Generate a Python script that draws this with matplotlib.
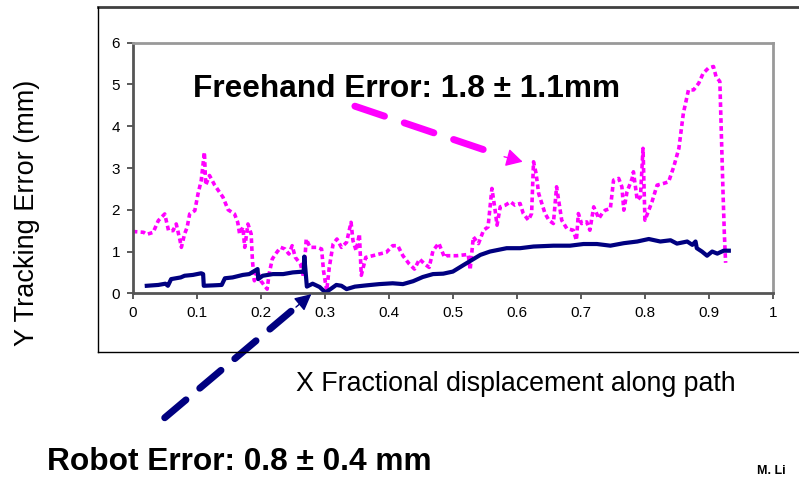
import matplotlib
matplotlib.use("Agg")
import matplotlib.pyplot as plt
from matplotlib.lines import Line2D

plt.rcParams["font.family"] = ["Liberation Sans", "DejaVu Sans"]

# freehand tracking error (dotted magenta)
free_x = [0.000, 0.017, 0.022, 0.032, 0.040, 0.050, 0.056, 0.063, 0.068, 0.074,
          0.076, 0.081, 0.085, 0.089, 0.097, 0.102, 0.107, 0.112, 0.114, 0.120,
          0.128, 0.141, 0.149, 0.159, 0.164, 0.167, 0.172, 0.175, 0.180, 0.185,
          0.187, 0.190, 0.195, 0.200, 0.210, 0.213, 0.218, 0.223, 0.231, 0.238,
          0.244, 0.249, 0.254, 0.262, 0.267, 0.271, 0.277, 0.288, 0.295, 0.298,
          0.303, 0.307, 0.313, 0.319, 0.326, 0.334, 0.341, 0.344, 0.349, 0.354,
          0.357, 0.364, 0.375, 0.385, 0.396, 0.406, 0.414, 0.422, 0.432, 0.440,
          0.448, 0.456, 0.463, 0.469, 0.478, 0.487, 0.490, 0.506, 0.524, 0.527,
          0.532, 0.540, 0.548, 0.555, 0.561, 0.566, 0.569, 0.574, 0.582, 0.590,
          0.597, 0.605, 0.610, 0.618, 0.623, 0.626, 0.630, 0.634, 0.639, 0.644,
          0.650, 0.657, 0.662, 0.666, 0.670, 0.678, 0.688, 0.693, 0.696, 0.701,
          0.709, 0.714, 0.720, 0.728, 0.733, 0.738, 0.746, 0.751, 0.759, 0.764,
          0.767, 0.772, 0.780, 0.782, 0.788, 0.793, 0.797, 0.800, 0.806, 0.811,
          0.819, 0.829, 0.837, 0.845, 0.853, 0.860, 0.868, 0.876, 0.884, 0.891,
          0.899, 0.907, 0.911, 0.917, 0.919, 0.922, 0.924, 0.926]
free_y = [1.48, 1.46, 1.41, 1.46, 1.74, 1.90, 1.50, 1.50, 1.66, 1.26,
          1.10, 1.42, 1.58, 1.90, 1.98, 2.38, 2.70, 3.38, 2.59, 2.82,
          2.59, 2.30, 2.00, 1.90, 1.70, 1.42, 1.58, 1.10, 1.66, 1.42,
          0.78, 0.30, 0.54, 0.30, 0.10, 0.46, 0.82, 0.94, 1.10, 1.06,
          0.94, 1.14, 0.86, 0.70, 0.38, 1.30, 1.10, 1.10, 1.06, 0.54,
          0.06, 0.62, 1.18, 1.30, 1.10, 1.22, 1.70, 1.26, 1.02, 1.42,
          0.43, 0.86, 0.90, 0.94, 0.98, 1.14, 1.14, 0.90, 0.70, 0.58,
          0.82, 0.70, 0.62, 1.02, 1.20, 0.86, 0.90, 0.90, 0.93, 0.56,
          1.35, 1.19, 1.51, 1.59, 2.51, 1.99, 1.63, 2.07, 2.11, 2.19,
          2.11, 2.15, 1.91, 1.75, 1.91, 3.15, 2.87, 2.39, 2.15, 1.91,
          1.75, 1.67, 2.55, 2.15, 1.75, 1.55, 1.51, 1.27, 1.91, 1.67,
          1.71, 1.51, 2.07, 1.79, 1.91, 1.99, 2.03, 2.71, 2.75, 2.55,
          1.99, 2.43, 2.75, 2.91, 2.23, 2.31, 3.47, 1.75, 1.99, 2.19,
          2.59, 2.63, 2.67, 3.03, 3.47, 4.31, 4.87, 4.87, 5.03, 5.27,
          5.39, 5.43, 5.19, 5.07, 3.99, 2.39, 1.43, 0.73]

# robot tracking error (solid navy)
robot_x = [0.022, 0.040, 0.051, 0.055, 0.060, 0.075, 0.081, 0.094, 0.107, 0.110,
           0.111, 0.126, 0.139, 0.144, 0.156, 0.172, 0.182, 0.195, 0.196, 0.203,
           0.219, 0.235, 0.250, 0.267, 0.268, 0.270, 0.272, 0.281, 0.292, 0.301,
           0.307, 0.318, 0.326, 0.334, 0.347, 0.365, 0.385, 0.406, 0.422, 0.438,
           0.453, 0.469, 0.485, 0.500, 0.517, 0.530, 0.543, 0.558, 0.584, 0.605,
           0.626, 0.657, 0.683, 0.704, 0.725, 0.746, 0.767, 0.788, 0.806, 0.824,
           0.840, 0.850, 0.866, 0.874, 0.879, 0.881, 0.889, 0.897, 0.905, 0.913,
           0.923, 0.931]
robot_y = [0.18, 0.20, 0.23, 0.18, 0.34, 0.38, 0.42, 0.44, 0.48, 0.46,
           0.18, 0.19, 0.20, 0.36, 0.38, 0.44, 0.46, 0.58, 0.34, 0.42,
           0.46, 0.46, 0.50, 0.52, 0.88, 0.52, 0.16, 0.23, 0.15, 0.02,
           0.08, 0.20, 0.18, 0.10, 0.16, 0.19, 0.22, 0.24, 0.22, 0.29,
           0.39, 0.46, 0.47, 0.52, 0.68, 0.80, 0.92, 1.00, 1.08, 1.08,
           1.12, 1.14, 1.14, 1.18, 1.18, 1.14, 1.20, 1.24, 1.30, 1.24,
           1.27, 1.19, 1.24, 1.16, 1.24, 1.08, 1.00, 0.90, 1.00, 0.95,
           1.02, 1.02]

x_ticks = [0, 0.1, 0.2, 0.3, 0.4, 0.5, 0.6, 0.7, 0.8, 0.9, 1]
x_tick_labels = ["0", "0.1", "0.2", "0.3", "0.4", "0.5", "0.6", "0.7", "0.8", "0.9", "1"]
y_ticks = [0, 1, 2, 3, 4, 5, 6]

W, H = 799, 478
fig = plt.figure(figsize=(W / 100, H / 100), dpi=100)
ax = fig.add_axes([132.7 / W, 1 - 293.3 / H, 640.3 / W, 250.6 / H])

# outer chart-area frame (right side runs off the slide)
fig.add_artist(Line2D([98 / W, 1.0], [1 - 6.5 / H, 1 - 6.5 / H], color="#404040", lw=2))
fig.add_artist(Line2D([98 / W, 98 / W], [1 - 6.5 / H, 1 - 352 / H], color="black", lw=1))
fig.add_artist(Line2D([98 / W, 1.0], [1 - 352 / H, 1 - 352 / H], color="black", lw=1))

ax.plot(free_x, free_y, color="#FF00FF", lw=2.6, linestyle=(0, (1.3, 0.9)))
ax.plot(robot_x, robot_y, color="#000080", lw=3)

ax.set_xlim(0, 1)
ax.set_ylim(0, 6)
ax.set_xticks(x_ticks)
ax.set_xticklabels(x_tick_labels)
ax.set_yticks(y_ticks)
ax.tick_params(labelsize=11, length=4, width=1.2, color="#404040", pad=5)
for side in ["top", "right"]:
    ax.spines[side].set_color("#999999")
    ax.spines[side].set_linewidth(2)
for side in ["left", "bottom"]:
    ax.spines[side].set_color("#555555")
    ax.spines[side].set_linewidth(2)

# freehand annotation
ax.text(0.094, 4.69, "Freehand Error: 1.8 \u00b1 1.1mm", fontsize=22.8, fontweight="bold",
        ha="left", va="baseline")
ax.annotate("", xy=(0.575, 3.30), xytext=(0.347, 4.48),
            arrowprops=dict(arrowstyle="-", color="#FF00FF", lw=5,
                            linestyle=(0, (4.5, 3)), shrinkA=0, shrinkB=0),
            annotation_clip=False)
ax.annotate("", xy=(0.609, 3.15), xytext=(0.580, 3.27),
            arrowprops=dict(arrowstyle="-|>,head_length=1.0,head_width=0.55",
                            color="#FF00FF", lw=1, shrinkA=0, shrinkB=0),
            annotation_clip=False)

# robot annotation
ax.annotate("", xy=(0.255, -0.33), xytext=(0.050, -2.98),
            arrowprops=dict(arrowstyle="-", color="#000080", lw=5,
                            linestyle=(0, (4, 2.6)), shrinkA=0, shrinkB=0),
            annotation_clip=False)
ax.annotate("", xy=(0.279, -0.02), xytext=(0.255, -0.33),
            arrowprops=dict(arrowstyle="-|>,head_length=1.0,head_width=0.5",
                            color="#000080", lw=1, shrinkA=0, shrinkB=0),
            annotation_clip=False)

fig.text(46.7 / W, 1 - 470 / H, "Robot Error: 0.8 \u00b1 0.4 mm", fontsize=22.8,
         fontweight="bold", ha="left", va="baseline")

fig.text(27 / W, 1 - 213 / H, "Y Tracking Error (mm)", fontsize=19.5, rotation=90,
         ha="center", va="center")
fig.text(516 / W, 1 - 384 / H, "X Fractional displacement along path", fontsize=19.3,
         ha="center", va="center")
fig.text(757 / W, 1 - 474 / H, "M. Li", fontsize=9, fontweight="bold",
         ha="left", va="baseline")

fig.savefig("out.png", dpi=100)
